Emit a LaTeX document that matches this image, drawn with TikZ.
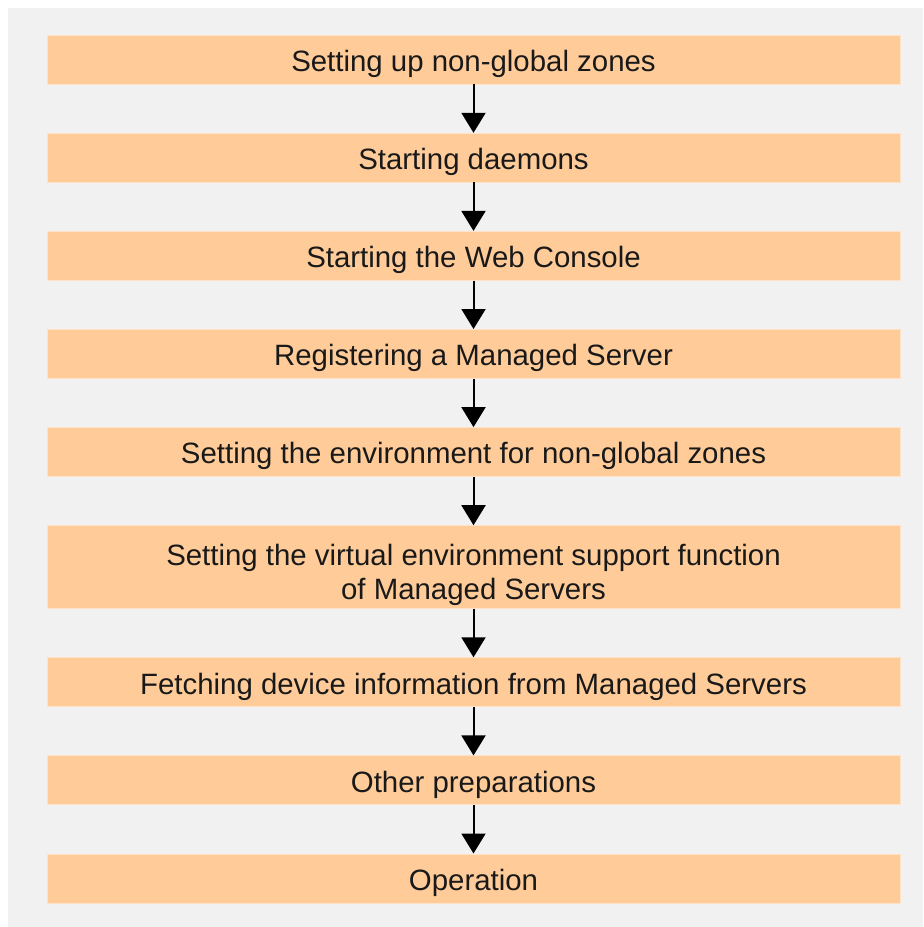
\documentclass[tikz,border=0pt]{standalone}
\usepackage{fontspec}
\setmainfont{Liberation Sans}
\usetikzlibrary{arrows.meta,positioning}

\definecolor{boxorange}{HTML}{FFCC99}
\definecolor{panelgray}{HTML}{F1F1F1}

\begin{document}
\begin{tikzpicture}[
    stepbox/.style={fill=boxorange, draw=boxorange!55!white, line width=0.3pt,
        minimum width=426.5pt, minimum height=24.5pt, inner sep=0pt,
        text height=12pt, text depth=0pt,
        font=\fontsize{14.7}{17}\selectfont, text=black!90, align=center},
    flowarrow/.style={line width=1pt, -{Triangle[width=12pt,length=10pt]}},
    node distance=24.25pt
]
    \useasboundingbox (0,0) rectangle (461.5pt,-463.5pt);

    % Gray panel behind the flow
    \fill[panelgray] (4pt,-4pt) rectangle (461.5pt,-463.5pt);

    % Steps, top to bottom
    \node[stepbox] (zones) at (236.75pt,-29.75pt) {Setting up non-global zones};
    \node[stepbox, below=of zones] (daemons) {Starting daemons};
    \node[stepbox, below=of daemons] (console) {Starting the Web Console};
    \node[stepbox, below=of console] (register) {Registering a Managed Server};
    \node[stepbox, below=of register] (envzones) {Setting the environment for non-global zones};
    \node[stepbox, below=of envzones, minimum height=41.5pt, text height=32.5pt] (virtual)
        {Setting the virtual environment support function\\ of Managed Servers};
    \node[stepbox, below=of virtual] (fetch) {Fetching device information from Managed Servers};
    \node[stepbox, below=of fetch] (other) {Other preparations};
    \node[stepbox, below=of other] (operation) {Operation};

    % Arrows between the steps
    \draw[flowarrow] (zones) -- (daemons);
    \draw[flowarrow] (daemons) -- (console);
    \draw[flowarrow] (console) -- (register);
    \draw[flowarrow] (register) -- (envzones);
    \draw[flowarrow] (envzones) -- (virtual);
    \draw[flowarrow] (virtual) -- (fetch);
    \draw[flowarrow] (fetch) -- (other);
    \draw[flowarrow] (other) -- (operation);
\end{tikzpicture}
\end{document}
